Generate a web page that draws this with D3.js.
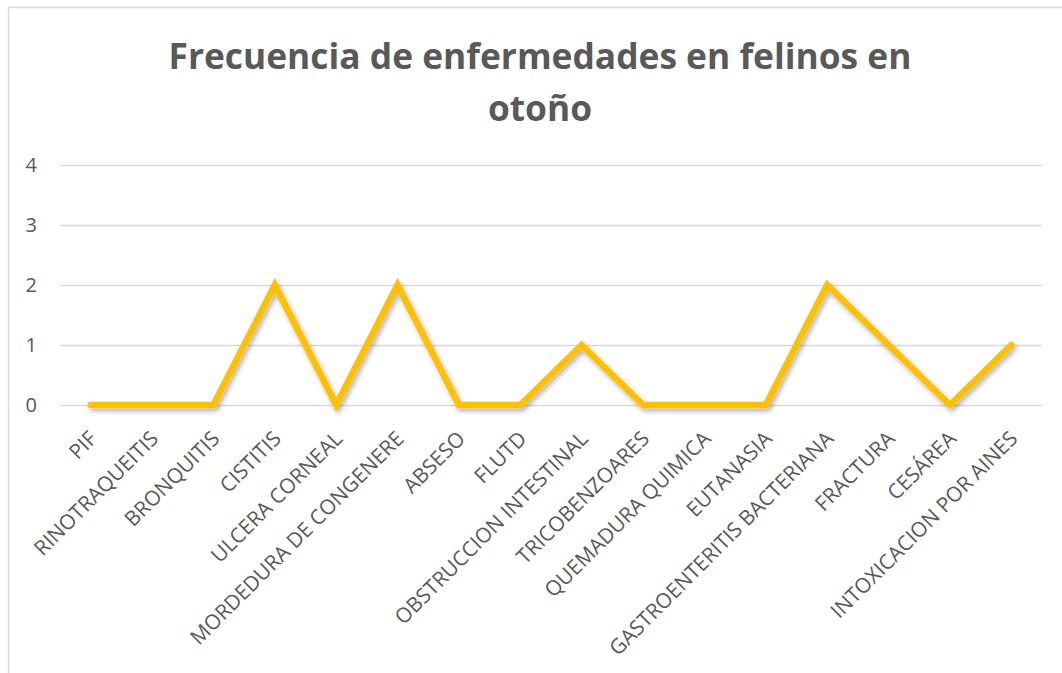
<!DOCTYPE html>
<html>
<head>
<meta charset="utf-8">
<script src="https://cdn.jsdelivr.net/npm/d3@7"></script>
<style>
  body { margin: 0; background: #fff; }
  text { font-family: "Open Sans", "Noto Sans", sans-serif; fill: #595959; }
</style>
</head>
<body>
<div id="viz_container"></div>
<script>
// data
const categories = ["PIF", "RINOTRAQUEITIS", "BRONQUITIS", "CISTITIS", "ULCERA CORNEAL",
  "MORDEDURA DE CONGENERE", "ABSESO", "FLUTD", "OBSTRUCCION INTESTINAL", "TRICOBENZOARES",
  "QUEMADURA QUIMICA", "EUTANASIA", "GASTROENTERITIS BACTERIANA", "FRACTURA", "CESÁREA",
  "INTOXICACION POR AINES"];
const values = [0, 0, 0, 2, 0, 2, 0, 0, 1, 0, 0, 0, 2, 1, 0, 1];
const yTicks = [0, 1, 2, 3, 4];
const titleLines = ["Frecuencia de enfermedades en felinos en", "otoño"];

const W = 1062, H = 673;
const plot = {left: 60, right: 1042, top: 165, bottom: 405};

const svg = d3.select("#viz_container")
  .append("svg")
    .attr("width", W)
    .attr("height", H);

// chart border (only left and top visible in the crop)
svg.append("rect")
  .attr("x", 8.5).attr("y", 7.5)
  .attr("width", W + 20).attr("height", H + 20)
  .attr("fill", "none")
  .attr("stroke", "#d9d9d9")
  .attr("stroke-width", 1.5);

// shadow for the line
const defs = svg.append("defs");
const f = defs.append("filter").attr("id", "shadow")
  .attr("x", "-10%").attr("y", "-10%").attr("width", "120%").attr("height", "130%");
f.append("feDropShadow")
  .attr("dx", 2).attr("dy", 3).attr("stdDeviation", 2.5)
  .attr("flood-color", "#000").attr("flood-opacity", 0.3);

// title
const title = svg.append("g").attr("class", "chart-title");
titleLines.forEach((t, i) => {
  title.append("text")
    .attr("x", 540)
    .attr("y", 69 + i * 52)
    .attr("text-anchor", "middle")
    .style("font-weight", "bold")
    .style("font-size", "34px")
    .text(t);
});
// fit first line width to the reference
const first = title.select("text").node();
const fs = 34 * 743 / first.getComputedTextLength();
title.selectAll("text").style("font-size", fs + "px");

// scales
const xScale = d3.scalePoint()
  .domain(categories)
  .range([plot.left, plot.right])
  .padding(0.5);

const yScale = d3.scaleLinear()
  .domain([0, 4])
  .range([plot.bottom, plot.top]);

// grid lines
svg.append("g")
    .attr("class", "grid")
    .attr("transform", `translate(${plot.left},0)`)
  .call(d3.axisLeft(yScale).tickValues(yTicks).tickSize(-(plot.right - plot.left)).tickFormat(""))
  .call(g => g.select(".domain").remove())
  .call(g => g.selectAll("line").attr("stroke", "#d9d9d9").attr("stroke-width", 1.5));

// y axis labels
svg.append("g")
    .attr("transform", `translate(${plot.left},0)`)
  .call(d3.axisLeft(yScale).tickValues(yTicks).tickSize(0).tickPadding(23).tickFormat(d3.format("d")))
  .call(g => g.select(".domain").remove())
  .call(g => g.selectAll("text").style("font-size", "20px").attr("fill", "#595959"));

// x axis labels
svg.append("g")
    .attr("transform", `translate(0,${plot.bottom})`)
  .call(d3.axisBottom(xScale).tickSize(0).tickPadding(0))
  .call(g => g.select(".domain").remove())
  .call(g => g.selectAll("text")
    .style("font-size", "20.8px")
    .attr("fill", "#595959")
    .attr("text-anchor", "end")
    .attr("dy", 0)
    .attr("y", 0)
    .attr("transform", "translate(7,35) rotate(-45)"));

// line
const line = d3.line()
  .x((d, i) => xScale(categories[i]))
  .y(d => yScale(d));

svg.append("path")
  .datum(values)
  .attr("d", line)
  .attr("fill", "none")
  .attr("stroke", "#FFC000")
  .attr("stroke-width", 6.5)
  .attr("stroke-linejoin", "miter")
  .attr("stroke-linecap", "round")
  .attr("filter", "url(#shadow)");
</script>
</body>
</html>
